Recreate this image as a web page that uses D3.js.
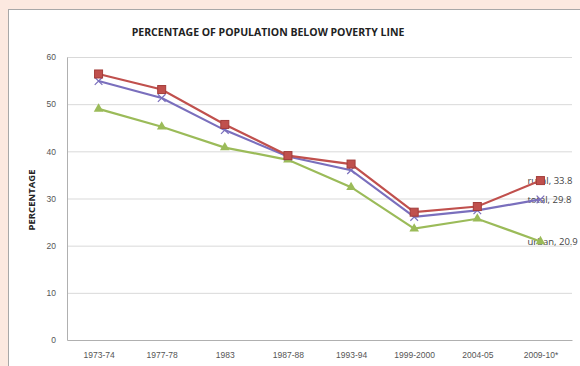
<!DOCTYPE html>
<html>
<head>
<meta charset="utf-8">
<script src="https://cdn.jsdelivr.net/npm/d3@7"></script>
<style>
  body { margin: 0; background: #fce9e0; }
  svg { display: block; font-family: "Open Sans", "DejaVu Sans", sans-serif; }
</style>
</head>
<body>
<svg width="580" height="366"></svg>
<script>
    var years = ['1973-74', '1977-78', '1983', '1987-88', '1993-94', '1999-2000', '2004-05', '2009-10*'];
    var rural = [56.4, 53.1, 45.7, 39.1, 37.3, 27.1, 28.3, 33.8];
    var total = [54.9, 51.3, 44.5, 38.9, 36.0, 26.1, 27.5, 29.8];
    var urban = [49.0, 45.2, 40.8, 38.2, 32.4, 23.6, 25.7, 20.9];
    var yTicks = [0, 10, 20, 30, 40, 50, 60];

(function () {
    var seriesList = [
        { name: 'urban', values: urban, color: '#9bbb59', marker: 'triangle' },
        { name: 'total', values: total, color: '#7a6fbd', marker: 'x' },
        { name: 'rural', values: rural, color: '#c0504d', marker: 'square' }
    ];

    var svg = d3.select('svg');

    // white chart panel
    svg.append('rect')
        .attr('x', 8.5).attr('y', 9.5)
        .attr('width', 600).attr('height', 400)
        .attr('fill', '#ffffff')
        .attr('stroke', '#a8a8a8');

    var plotLeft = 67, plotRight = 572, plotTop = 57, plotBottom = 340;

    var x = d3.scalePoint().domain(years).range([plotLeft, plotRight]).padding(0.5);
    var y = d3.scaleLinear().domain([0, 60]).range([plotBottom, plotTop]);

    // gridlines
    svg.append('g')
        .selectAll('line')
        .data(yTicks.slice(1))
        .enter().append('line')
        .attr('x1', plotLeft).attr('x2', plotRight)
        .attr('y1', function(d) { return y(d) + 0.5; })
        .attr('y2', function(d) { return y(d) + 0.5; })
        .attr('stroke', '#d9d9d9');

    var yAxis = svg.append('g')
        .attr('transform', 'translate(' + plotLeft + ',0)')
        .call(d3.axisLeft(y).tickValues(yTicks).tickSize(0).tickPadding(11));
    yAxis.select('.domain').attr('stroke', '#b0b0b0');
    yAxis.selectAll('text').attr('font-size', 8.5).attr('fill', '#555');

    var xAxis = svg.append('g')
        .attr('transform', 'translate(0,' + plotBottom + ')')
        .call(d3.axisBottom(x).tickSize(0).tickPadding(12));
    xAxis.select('.domain').attr('stroke', '#b0b0b0');
    xAxis.selectAll('text').attr('font-size', 8.5).attr('fill', '#555');

    svg.append('text')
        .attr('x', 268).attr('y', 36)
        .attr('text-anchor', 'middle')
        .attr('font-size', 10.5).attr('font-weight', 'bold')
        .attr('fill', '#222')
        .text('PERCENTAGE OF POPULATION BELOW POVERTY LINE');

    svg.append('text')
        .attr('transform', 'translate(35,200) rotate(-90)')
        .attr('text-anchor', 'middle')
        .attr('font-size', 9.5).attr('font-weight', 'bold')
        .attr('fill', '#222')
        .text('PERCENTAGE');

    // end-of-line labels sit under the markers
    seriesList.forEach(function(s) {
        var last = s.values.length - 1;
        svg.append('text')
            .attr('x', x(years[last]) - 13)
            .attr('y', y(s.values[last]) + 3.5)
            .attr('font-size', 9.5)
            .attr('fill', '#444')
            .text(s.name + ', ' + s.values[last]);
    });

    var line = d3.line()
        .x(function(d, i) { return x(years[i]); })
        .y(function(d) { return y(d); });

    seriesList.forEach(function(s) {
        var g = svg.append('g');
        g.append('path')
            .datum(s.values)
            .attr('d', line)
            .attr('fill', 'none')
            .attr('stroke', s.color)
            .attr('stroke-width', 2.2);

        var pts = g.selectAll('g.pt')
            .data(s.values)
            .enter().append('g')
            .attr('transform', function(d, i) { return 'translate(' + x(years[i]) + ',' + y(d) + ')'; });

        if (s.marker === 'square') {
            pts.append('rect')
                .attr('x', -4).attr('y', -4).attr('width', 8).attr('height', 8)
                .attr('fill', s.color).attr('stroke', '#a33d3a');
        } else if (s.marker === 'triangle') {
            pts.append('path')
                .attr('d', d3.symbol().type(d3.symbolTriangle).size(40))
                .attr('fill', s.color);
        } else {
            pts.append('path')
                .attr('d', d3.symbol().type(d3.symbolX).size(40))
                .attr('fill', 'none').attr('stroke', s.color).attr('stroke-width', 1.2);
        }
    });
})();
</script>
</body>
</html>
